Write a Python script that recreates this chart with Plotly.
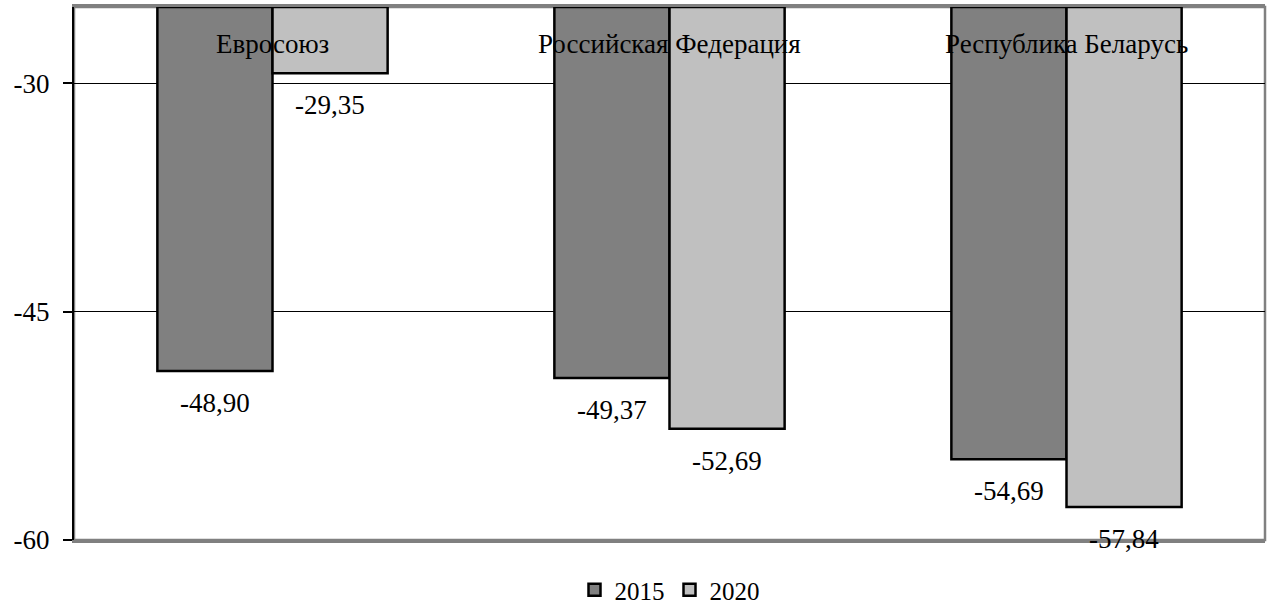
import plotly.graph_objects as go

# Categories and series values
regions = ["Евросоюз", "Российская Федерация", "Республика Беларусь"]
years = ["2015", "2020"]
values_2015 = [-48.90, -49.37, -54.69]
values_2020 = [-29.35, -52.69, -57.84]
bar_colors = ["#808080", "#c0c0c0"]

y_ticks = [-60, -45, -30]
y_tick_labels = ["-60", "-45", "-30"]
y_min, y_max = -60, -25

FONT = "Liberation Serif"

fig = go.Figure()
series = [values_2015, values_2020]
for name, vals, color in zip(years, series, bar_colors):
    # bars hang from the top of the value axis down to each value
    fig.add_trace(go.Bar(
        x=regions,
        y=[v - y_max for v in vals],
        base=y_max,
        name=name,
        marker=dict(color=color, line=dict(color="black", width=2.5)),
        hoverinfo="skip",
    ))

annotations = []
# value labels under the bar ends
bar_half = 57.5
for i, vals in enumerate(series):
    shift = -bar_half if i == 0 else bar_half
    for region, v in zip(regions, vals):
        annotations.append(dict(
            x=region, y=v, xref="x", yref="y",
            text=f"{v:.2f}".replace(".", ","),
            showarrow=False, xshift=shift, yshift=-32,
            font=dict(family=FONT, size=27, color="black"),
        ))
# category names along the top of the plot
for region in regions:
    annotations.append(dict(
        x=region, y=-27.45, xref="x", yref="y",
        text=region, showarrow=False,
        font=dict(family=FONT, size=27, color="black"),
    ))

shapes = [
    # grey frame around the plot area
    dict(type="rect", xref="x domain", yref="y domain", x0=0, x1=1, y0=0, y1=1,
         line=dict(color="#808080", width=2.5), layer="below"),
]

fig.update_layout(
    width=1272, height=613,
    margin=dict(l=74, r=7, t=7, b=73, autoexpand=False),
    paper_bgcolor="white", plot_bgcolor="white",
    barmode="group", bargap=0.42, bargroupgap=0,
    font=dict(family=FONT, size=27, color="black"),
    showlegend=True,
    legend=dict(orientation="h", xref="paper", x=0.5, xanchor="center",
                yref="container", y=0.0, yanchor="bottom",
                font=dict(family=FONT, size=25, color="black"),
                itemwidth=30, tracegroupgap=0),
    annotations=annotations,
    shapes=shapes,
)
fig.update_xaxes(showticklabels=False, showgrid=False, zeroline=False,
                 showline=True, linecolor="#808080", linewidth=2.5, mirror=True,
                 ticks="")
fig.update_yaxes(range=[y_min, y_max], tickvals=y_ticks, ticktext=y_tick_labels,
                 showgrid=True, gridcolor="black", gridwidth=1.2, zeroline=False,
                 showline=True, linecolor="black", linewidth=2,
                 ticks="outside", ticklen=9, tickwidth=2, tickcolor="black",
                 ticklabelstandoff=8,
                 tickfont=dict(family=FONT, size=27, color="black"))

fig.write_html("out.html")
